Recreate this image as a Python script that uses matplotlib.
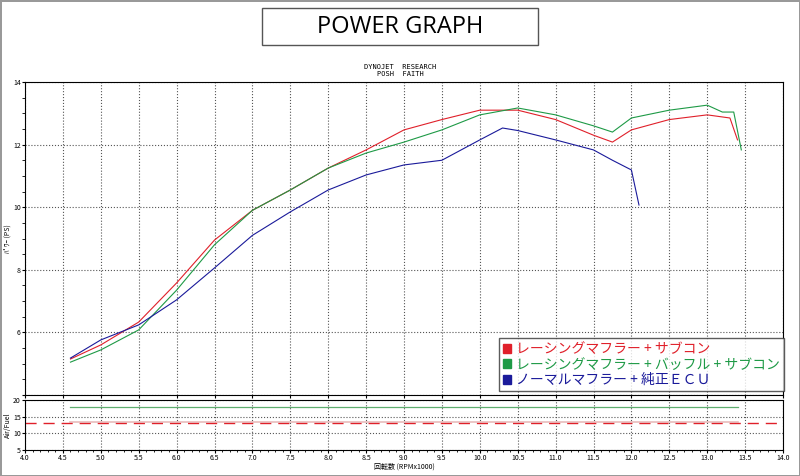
import numpy as np
import matplotlib.pyplot as plt
from matplotlib.patches import Rectangle

plt.rcParams['font.family'] = ['Noto Sans CJK JP', 'DejaVu Sans']

# 馬力カーブ (rpm x1000, PS)
rpm_red = [4.6, 5.0, 5.5, 6.0, 6.5, 7.0, 7.5, 8.0, 8.5, 9.0, 9.5, 10.0, 10.5, 11.0, 11.5, 11.75, 12.0, 12.5, 13.0, 13.3, 13.4]
ps_red = [5.15, 5.6, 6.33, 7.58, 8.95, 9.9, 10.55, 11.25, 11.83, 12.47, 12.8, 13.1, 13.1, 12.8, 12.3, 12.08, 12.47, 12.8, 12.95, 12.85, 12.15]
rpm_green = [4.6, 5.0, 5.5, 6.0, 6.5, 7.0, 7.5, 8.0, 8.5, 9.0, 9.5, 10.0, 10.5, 11.0, 11.5, 11.75, 12.0, 12.5, 13.0, 13.2, 13.35, 13.45]
ps_green = [5.05, 5.44, 6.08, 7.35, 8.8, 9.9, 10.55, 11.25, 11.73, 12.08, 12.47, 12.95, 13.17, 12.95, 12.6, 12.4, 12.85, 13.1, 13.26, 13.04, 13.04, 11.83]
rpm_blue = [4.6, 5.0, 5.5, 6.0, 6.5, 7.0, 7.5, 8.0, 8.5, 9.0, 9.5, 10.0, 10.3, 10.5, 11.0, 11.5, 11.75, 12.0, 12.1]
ps_blue = [5.18, 5.76, 6.24, 7.04, 8.06, 9.1, 9.85, 10.55, 11.03, 11.35, 11.5, 12.15, 12.53, 12.45, 12.15, 11.83, 11.5, 11.19, 10.07]

# 空燃比
afr_rpm = [4.6, 13.4]
afr_green = [18, 18]
afr_red = [13.0, 13.0]
afr_red2 = [13.5, 13.5]

legend_labels = ['レーシングマフラー + サブコン', 'レーシングマフラー + バッフル + サブコン', 'ノーマルマフラー + 純正ＥＣＵ']
colors = ['#e0202a', '#1e9a46', '#1a1a9a']

fig = plt.figure(figsize=(8, 4.76), dpi=100)
fig.patch.set_edgecolor('#999999')
fig.patch.set_linewidth(2)

# タイトル
fig.patches.append(Rectangle((262/800, 1-45/476), 276/800, 37/476, transform=fig.transFigure,
                             fill=False, edgecolor='#555555', lw=1))
fig.text(0.5, 1-27/476, 'POWER GRAPH', ha='center', va='center', fontsize=17, family=['Open Sans', 'DejaVu Sans'])
fig.text(400/800, 1-67/476, 'DYNOJET  RESEARCH', ha='center', va='center', fontsize=5, family='DejaVu Sans Mono')
fig.text(400/800, 1-74/476, 'POSH  FAITH', ha='center', va='center', fontsize=5, family='DejaVu Sans Mono')

ax = fig.add_axes([25/800, 1-395/476, 758/800, 313/476])
ax2 = fig.add_axes([25/800, 1-450/476, 758/800, 50/476])

ax.plot(rpm_red, ps_red, color=colors[0], lw=0.8)
ax.plot(rpm_green, ps_green, color=colors[1], lw=0.8)
ax.plot(rpm_blue, ps_blue, color=colors[2], lw=0.8)
ax.set_xlim(4, 14)
ax.set_ylim(4, 14)
ax.set_xticks(np.arange(4, 14.01, 0.5))
ax.set_xticklabels([])
ax.set_yticks([4, 6, 8, 10, 12, 14])
ax.set_yticklabels(['', '6', '8', '10', '12', '14'])
ax.set_yticks(np.arange(4, 14.01, 0.5), minor=True)
ax.grid(True, which='major', color='#555555', ls=':', lw=0.8)
ax.tick_params(labelsize=5, length=2, pad=1)
ax.set_ylabel('ﾊﾟﾜｰ (PS)', fontsize=5, labelpad=1)

handles = [Rectangle((0, 0), 1, 1, color=c) for c in colors]
leg = ax.legend(handles, legend_labels, loc='lower right', bbox_to_anchor=(1.01, -0.01), fontsize=10,
                frameon=True, fancybox=False, edgecolor='#333333', handlelength=0.6, handleheight=0.6,
                handletextpad=0.3, borderpad=0.3, labelspacing=0.1)
for t, c in zip(leg.get_texts(), colors):
    t.set_color(c)

ax2.plot(afr_rpm, afr_green, color='#5fae6f', lw=0.9)
ax2.plot([4, 14], afr_red, color='#e0202a', lw=1, ls=(0, (8, 5)))
ax2.plot(afr_rpm, afr_red2, color='#d89090', lw=1.2, alpha=0.6)
ax2.set_xlim(4, 14)
ax2.set_ylim(5, 20)
ax2.set_xticks(np.arange(4, 14.01, 0.5))
ax2.set_xticks(np.arange(4, 14.01, 0.1), minor=True)
ax2.set_xticklabels([f'{v:.1f}' for v in np.arange(4, 14.01, 0.5)])
ax2.set_yticks([5, 10, 15, 20])
ax2.grid(True, which='major', color='#555555', ls=':', lw=0.8)
ax2.tick_params(labelsize=5, length=2, pad=1)
ax2.tick_params(which='minor', length=1.5)
ax2.set_ylabel('Air/Fuel', fontsize=5, labelpad=1)
ax2.set_xlabel('回転数 (RPMx1000)', fontsize=5, labelpad=0)

fig.savefig('out.png', dpi=100)
